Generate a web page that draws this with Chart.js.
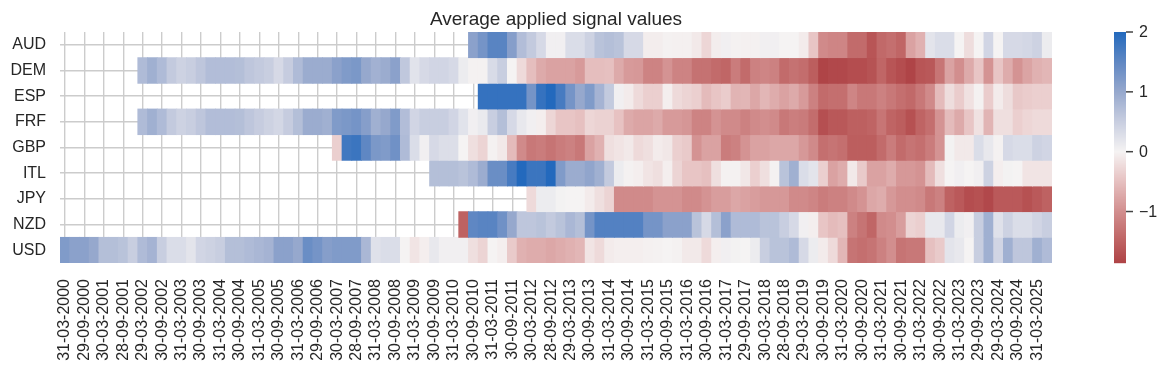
<!DOCTYPE html>
<html>
<head>
<meta charset="utf-8">
<script src="https://cdn.jsdelivr.net/npm/chart.js@4.4.1/dist/chart.umd.min.js"></script>
<style>
  html, body { margin: 0; padding: 0; background: #fff; }
  #wrap { width: 1166px; height: 371px; }
</style>
</head>
<body>
<div id="wrap"><canvas id="heat" width="1166" height="371"></canvas></div>
<script>
const TITLE = "Average applied signal values";
const FONT = '"Liberation Sans", Arial, sans-serif';
const INK = "#262626";
const GRID = "#cccccc";

const currencies = ["AUD", "DEM", "ESP", "FRF", "GBP", "ITL", "JPY", "NZD", "USD"];

// one column per quarter, 2000Q1 .. 2025Q2; every second quarter is labelled
const quarterCount = 102;
const tickLabels = [
  "31-03-2000", "29-09-2000", "30-03-2001", "28-09-2001", "29-03-2002", "30-09-2002",
  "31-03-2003", "30-09-2003", "31-03-2004", "30-09-2004", "31-03-2005", "30-09-2005",
  "31-03-2006", "29-09-2006", "30-03-2007", "28-09-2007", "31-03-2008", "30-09-2008",
  "31-03-2009", "30-09-2009", "31-03-2010", "30-09-2010", "31-03-2011", "30-09-2011",
  "30-03-2012", "28-09-2012", "29-03-2013", "30-09-2013", "31-03-2014", "30-09-2014",
  "31-03-2015", "30-09-2015", "31-03-2016", "30-09-2016", "31-03-2017", "29-09-2017",
  "30-03-2018", "28-09-2018", "29-03-2019", "30-09-2019", "31-03-2020", "30-09-2020",
  "31-03-2021", "30-09-2021", "31-03-2022", "30-09-2022", "31-03-2023", "29-09-2023",
  "29-03-2024", "30-09-2024", "31-03-2025",
];

// quarters with no signal yet
function gap(n) { return Array(n).fill(null); }

const AUD = [...gap(42),
  1.1, 1.3, 1.55, 1.55, 1.15, 0.72, 0.55, 0.35, 0.05, 0.05, 0.3, 0.3, 0.45, 0.65, 0.7,
  0.65, 0.35, 0.35, -0.06, -0.06, -0.02, -0.03, -0.03, -0.1, -0.28, -0.06, 0.05, -0.02, -0.03, -0.03,
  0.05, 0.05, 0.0, 0.0, -0.08, -0.45, -1.05, -1.1, -1.1, -1.4, -1.4, -1.65, -1.42, -1.35, -1.45,
  -0.8, -0.65, 0.2, 0.3, 0.3, 0.0, -0.22, 0.0, 0.4, 0.0, 0.35, 0.35, 0.38, 0.45, 0.1];

const DEM = [...gap(8),
  0.75, 0.9, 0.75, 0.55, 0.45, 0.5, 0.6, 0.72, 0.72, 0.72, 0.7, 0.6, 0.55, 0.5, 0.35,
  0.52, 0.75, 0.95, 0.95, 0.95, 1.1, 1.2, 1.25, 1.0, 0.88, 0.95,
  1.1, 0.58, 0.22, 0.35, 0.4, 0.4, 0.35, 0.1, -0.02, -0.02, 0.32, 0.5, 0.0, -0.25, -0.52,
  -0.72, -0.8, -0.8, -0.8, -0.88, -0.52, -0.52, -0.5, -0.72, -0.88, -0.9, -1.12, -1.12, -0.95, -1.12,
  -1.12, -1.32, -1.32, -1.4, -1.45, -1.2, -1.4, -1.15,
  -1.1, -1.15, -1.4, -1.32, -1.38, -1.55, -1.85, -1.8, -1.8, -1.75, -1.75, -1.68, -1.45, -1.65, -1.75,
  -1.85, -1.65, -1.62, -1.28, -0.8, -1.0, -0.72, -0.45, -0.95, -0.45, -0.7, -0.95, -0.78, -0.65, -0.6];

const ESP = [...gap(43),
  1.85, 1.85, 1.85, 1.85, 1.85, 1.3, 1.85, 2.0, 1.7, 1.3, 1.0, 1.2, 0.85, 0.55, 0.05,
  -0.08, -0.25, -0.35, -0.35, -0.05, -0.25, -0.3, -0.35, -0.55, -0.45, -0.38, -0.62, -0.6, -0.75,
  -0.6, -0.7, -0.8, -0.72, -0.88, -1.15, -1.4, -1.35, -1.35, -1.1, -1.25, -1.25, -1.15, -1.25, -1.35,
  -1.42, -1.25, -1.05, -0.55, -0.22, -0.38, -0.18, -0.02, -0.38, -0.08, -0.22, -0.42, -0.38, -0.35, -0.35];

const FRF = [...gap(8),
  0.75, 0.9, 0.75, 0.55, 0.45, 0.5, 0.6, 0.72, 0.72, 0.72, 0.7, 0.6, 0.52, 0.45, 0.38,
  0.52, 0.7, 0.95, 0.95, 0.9, 1.2, 1.25, 1.3, 1.15, 0.9, 1.0,
  1.2, 0.72, 0.4, 0.5, 0.5, 0.5, 0.4, 0.22, 0.05, 0.12, 0.5, 0.7, 0.35, 0.15, 0.05,
  -0.05, -0.28, -0.45, -0.45, -0.5, -0.28, -0.32, -0.32, -0.48, -0.72, -0.78, -0.78, -0.72, -0.88, -0.88,
  -0.92, -1.12, -1.12, -0.95, -1.05, -1.05, -1.15, -1.05,
  -1.0, -1.05, -1.25, -1.18, -1.22, -1.38, -1.72, -1.62, -1.62, -1.52, -1.52, -1.48, -1.28, -1.48, -1.55,
  -1.7, -1.48, -1.35, -0.95, -0.55, -0.72, -0.45, -0.18, -0.62, -0.2, -0.2, -0.35, -0.28, -0.25, -0.25];

const GBP = [...gap(28),
  -0.35, 1.75, 1.8, 1.5, 1.25, 1.2, 1.35, 0.75, 0.3, 0.05, 0.35, 0.28, 0.28, 0.0, -0.2,
  -0.3, -0.02, -0.1, -0.55, -1.05, -1.25, -1.2, -1.3, -1.2, -1.15, -1.25, -0.8, -0.65, -0.2, -0.15,
  -0.1, -0.25, -0.2, -0.08, -0.12, -0.35, -0.4, -0.95, -0.8, -0.8, -1.2, -1.15, -0.95, -0.8,
  -0.8, -0.75, -0.75, -0.75, -0.9, -1.05, -1.35, -1.3, -1.35, -1.55, -1.55, -1.55, -1.4, -1.2, -1.4,
  -1.3, -1.35, -1.2, -0.95, 0.02, -0.1, -0.1, 0.3, 0.15, -0.02, 0.35, 0.3, 0.3, 0.45, 0.4];

const ITL = [...gap(38),
  0.7, 0.7, 0.7, 0.65, 0.75, 0.95, 1.4, 1.4, 1.7, 2.0, 1.8, 1.8, 2.0, 1.2, 0.95,
  0.95, 1.05, 0.9, 0.55, 0.1, -0.02, -0.05, -0.15, -0.2, -0.05, -0.3, -0.45, -0.45, -0.5, -0.2,
  -0.02, -0.02, -0.12, -0.35,
  -0.2, -0.02, 0.65, 0.9, 0.3, 0.2, -0.35, -0.8, -0.7, -0.1, -0.4, -0.8, -0.8, -0.7, -0.9,
  -0.9, -0.95, -0.55, -0.2, 0.0, 0.05, 0.0, 0.05, 0.45, -0.05, 0.02, 0.0, -0.15, -0.15, -0.15];

const JPY = [...gap(48),
  -0.25, 0.1, 0.1, 0.02, 0.0, 0.0, -0.08, -0.2, -0.3, -1.05, -1.05, -1.05, -1.05, -0.95, -0.95,
  -0.95, -1.05, -1.05, -0.95, -0.85, -0.85, -0.75, -0.8, -0.85,
  -0.9, -0.9, -0.9, -1.05, -1.05, -1.1, -1.2, -1.15, -1.15, -1.05, -0.95, -0.75, -0.7, -0.9, -1.0,
  -1.0, -1.05, -1.25, -1.15, -1.5, -1.6, -1.75, -1.7, -1.8, -1.6, -1.6, -1.6, -1.7, -1.6, -1.5];

const NZD = [...gap(41),
  -1.5, 1.5, 1.55, 1.55, 1.35, 1.0, 0.6, 0.6, 0.65, 0.55, 0.65, 0.8, 0.7, 1.3, 1.6,
  1.6, 1.6, 1.6, 1.6, 1.3, 1.3, 1.1, 1.1, 1.1, 0.65, 0.35, 0.7, 1.1, 0.75, 0.75, 0.75,
  0.65, 0.65, 0.5, 0.35, 0.05, -0.05, -0.45, -0.55, -0.5, -1.15, -1.3, -1.45, -1.05, -1.0, -0.85,
  -0.3, -0.35, 0.15, 0.15, 0.4, 0.1, 0.05, 0.5, 0.9, 0.25, 0.45, 0.3, 0.3, 0.4, 0.5];

const USD = [
  1.2, 1.1, 1.1, 1.0, 0.7, 0.7, 0.65, 0.5, 0.75, 0.85, 0.5, 0.3, 0.3, 0.2, 0.4,
  0.45, 0.5, 0.7, 0.7, 0.75, 0.8, 0.85, 1.1, 1.1, 1.0, 1.4, 1.3, 1.15, 1.2, 1.2,
  1.2, 0.8, 0.25, 0.3,
  0.3, 0.0, -0.15, -0.05, 0.15, 0.05, 0.05, 0.05, -0.2, -0.3, 0.0, -0.05, -0.4, -0.65, -0.7,
  -0.7, -0.75, -0.7, -0.65, -0.6, -0.15, -0.25, -0.08, -0.05, -0.05, -0.05, -0.03, -0.02, 0.0, -0.02,
  -0.1, -0.1, -0.25, -0.05, 0.05, 0.02, 0.0, 0.1,
  0.5, 0.65, 0.65, 0.75, 0.35, 0.1, -0.08, -0.25, -0.6, -1.3, -1.35, -1.3, -1.15, -1.0, -1.3,
  -1.25, -1.25, -0.5, -0.4, 0.2, 0.15, 0.0, 0.5, 0.9, 0.4, 0.9, 0.6, 0.6, 0.9, 0.75];

const series = { AUD, DEM, ESP, FRF, GBP, ITL, JPY, NZD, USD };

// colour bar range
const cbMin = -1.86;
const cbMax = 2;
const cbTicks = [2, 1, 0, -1];

// red -> white -> blue, roughly seaborn's vlag_r
const STOPS = [
  [-2.0, [169, 55, 59]],
  [-1.5, [190, 98, 98]],
  [-1.0, [210, 142, 142]],
  [-0.5, [230, 192, 192]],
  [0.0, [245, 243, 243]],
  [0.5, [200, 206, 224]],
  [1.0, [150, 168, 205]],
  [1.5, [95, 135, 195]],
  [2.0, [35, 105, 189]],
];

function signalColor(v) {
  const x = Math.max(-2, Math.min(2, v));
  for (let k = 1; k < STOPS.length; k++) {
    const [v1, c1] = STOPS[k];
    if (x <= v1) {
      const [v0, c0] = STOPS[k - 1];
      const t = (x - v0) / (v1 - v0);
      const c = c0.map((a, j) => Math.round(a + (c1[j] - a) * t));
      return `rgb(${c[0]},${c[1]},${c[2]})`;
    }
  }
  return "rgb(35,105,189)";
}

const datasets = currencies.map((cur) => {
  const points = [];
  const colors = [];
  series[cur].forEach((v, i) => {
    if (v === null) return;
    points.push({ x: [i, i + 1], y: cur });
    colors.push(signalColor(v));
  });
  return {
    label: cur,
    data: points,
    backgroundColor: colors,
    borderWidth: 0,
    grouped: false,
    barPercentage: 1,
    categoryPercentage: 1,
    inflateAmount: 0.4,
  };
});

const chrome = {
  id: "chrome",
  afterDraw(chart) {
    const { ctx, chartArea } = chart;
    ctx.save();
    ctx.fillStyle = INK;
    ctx.font = `19px ${FONT}`;
    ctx.textAlign = "center";
    ctx.textBaseline = "alphabetic";
    ctx.fillText(TITLE, (chartArea.left + chartArea.right) / 2, 25);

    // colour bar
    const x0 = 1114, w = 12;
    const top = chartArea.top, bottom = chartArea.bottom;
    const h = bottom - top;
    for (let y = 0; y < h; y++) {
      const v = cbMax - ((y + 0.5) / h) * (cbMax - cbMin);
      ctx.fillStyle = signalColor(v);
      ctx.fillRect(x0, top + y, w, 1.2);
    }
    ctx.strokeStyle = "#444";
    ctx.lineWidth = 1.5;
    ctx.fillStyle = INK;
    ctx.font = `16px ${FONT}`;
    ctx.textAlign = "left";
    ctx.textBaseline = "middle";
    cbTicks.forEach((t) => {
      const y = top + ((cbMax - t) / (cbMax - cbMin)) * h;
      ctx.beginPath();
      ctx.moveTo(x0 + w, y);
      ctx.lineTo(x0 + w + 7, y);
      ctx.stroke();
      ctx.fillText(t < 0 ? "\u2212" + Math.abs(t) : String(t), x0 + w + 13, y + 1);
    });
    ctx.restore();
  },
};

new Chart(document.getElementById("heat"), {
  type: "bar",
  data: { labels: currencies, datasets },
  options: {
    indexAxis: "y",
    responsive: false,
    devicePixelRatio: 1,
    animation: false,
    events: [],
    layout: { padding: { top: 32, right: 114, left: 0, bottom: 0 } },
    plugins: { legend: { display: false }, tooltip: { enabled: false }, title: { display: false } },
    scales: {
      x: {
        type: "linear",
        min: 0,
        max: quarterCount,
        afterBuildTicks: (scale) => {
          scale.ticks = tickLabels.map((_, k) => ({ value: k * 2 + 0.5 }));
        },
        afterFit: (scale) => { scale.height = 108; },
        border: { display: false },
        grid: { color: GRID, lineWidth: 1.4, drawTicks: false },
        ticks: {
          autoSkip: false,
          minRotation: 90,
          maxRotation: 90,
          padding: 16,
          color: INK,
          font: { family: FONT, size: 16 },
          callback: (value, index) => tickLabels[index],
        },
      },
      y: {
        type: "category",
        offset: true,
        afterFit: (scale) => { scale.width = 60; },
        border: { display: false },
        grid: { color: GRID, lineWidth: 1.4, drawTicks: false, offset: false },
        ticks: { padding: 14, color: INK, font: { family: FONT, size: 16 } },
      },
    },
  },
  plugins: [chrome],
});
</script>
</body>
</html>
